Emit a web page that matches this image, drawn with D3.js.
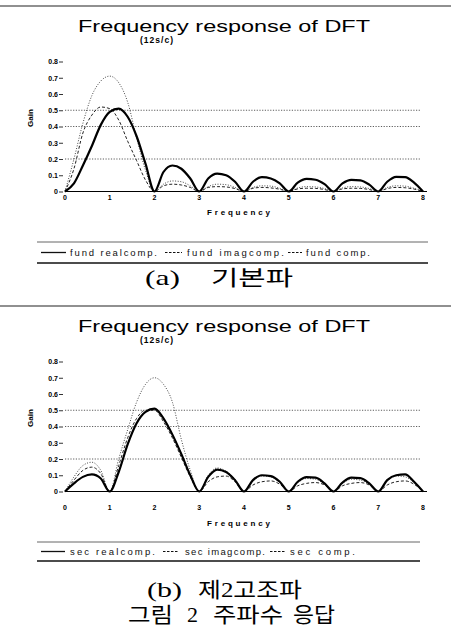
<!DOCTYPE html>
<html><head><meta charset="utf-8">
<script src="https://cdn.jsdelivr.net/npm/d3@7"></script>
<style>body{margin:0;background:#fff}svg{display:block}</style>
</head><body>
<script>
const freq = [0,0.2,0.4,0.6,0.8,1,1.2,1.4,1.6,1.8,2,2.2,2.4,2.6,2.8,3,3.2,3.4,3.6,3.8,4,4.2,4.4,4.6,4.8,5,5.2,5.4,5.6,5.8,6,6.2,6.4,6.6,6.8,7,7.2,7.4,7.6,7.8,8];
const xTicks = [0,1,2,3,4,5,6,7,8];
const yTicks = [0,0.1,0.2,0.3,0.4,0.5,0.6,0.7,0.8];
const yTickLabels = ["0","0.1","0.2","0.3","0.4","0.5","0.6","0.7","0.8"];
const gridValues = [0.2,0.4,0.5];

const fundReal = [0,0.05,0.16,0.28,0.41,0.49,0.51,0.46,0.34,0.17,0,
  0.12,0.16,0.14,0.08,0, 0.08,0.11,0.10,0.06,0, 0.06,0.088,0.08,0.05,0,
  0.055,0.078,0.072,0.045,0, 0.05,0.072,0.068,0.042,0, 0.06,0.09,0.088,0.055,0];
const fundImag = [0,0.14,0.36,0.47,0.52,0.51,0.44,0.31,0.19,0.07,0,
  0.035,0.045,0.04,0.025,0, 0.025,0.03,0.028,0.018,0, 0.02,0.025,0.022,0.014,0,
  0.016,0.02,0.019,0.012,0, 0.016,0.02,0.019,0.012,0, 0.018,0.025,0.023,0.015,0];
const fundComp = [0,0.2,0.42,0.59,0.68,0.71,0.67,0.55,0.33,0.13,0,
  0.045,0.065,0.06,0.035,0, 0.03,0.045,0.042,0.025,0, 0.025,0.035,0.033,0.02,0,
  0.022,0.03,0.028,0.018,0, 0.022,0.03,0.028,0.018,0, 0.025,0.035,0.033,0.02,0];

const secReal = [0,0.05,0.09,0.105,0.08,0,0.12,0.29,0.42,0.49,0.51,0.45,0.35,0.23,0.1,0,
  0.09,0.135,0.12,0.07,0, 0.07,0.10,0.095,0.06,0, 0.06,0.088,0.085,0.05,0,
  0.055,0.085,0.082,0.05,0, 0.07,0.10,0.105,0.06,0];
const secImag = [0,0.07,0.13,0.15,0.11,0,0.16,0.33,0.45,0.5,0.5,0.43,0.33,0.21,0.09,0,
  0.06,0.09,0.095,0.06,0, 0.04,0.06,0.065,0.045,0, 0.035,0.05,0.055,0.04,0,
  0.035,0.05,0.055,0.04,0, 0.04,0.06,0.065,0.045,0];
const secComp = [0,0.09,0.16,0.18,0.13,0,0.2,0.38,0.55,0.66,0.7,0.66,0.55,0.32,0.13,0,
  0.10,0.145,0.125,0.075,0, 0.065,0.095,0.09,0.055,0, 0.055,0.08,0.075,0.045,0,
  0.05,0.075,0.07,0.045,0, 0.065,0.095,0.09,0.055,0];

const fundNames = ["fund realcomp.","fund imagcomp.","fund comp."];
const secNames = ["sec realcomp.","sec imagcomp.","sec comp."];

const W = 453, H = 629;
const svg = d3.select("body").append("svg").attr("width", W).attr("height", H);
const sans = "'Liberation Sans', Arial, sans-serif";
const styles = [
  {w:2.2, dash:null, c:"#000"},
  {w:1, dash:"3,2", c:"#222"},
  {w:0.9, dash:"1,1.6", c:"#333"}
];

function chart(off, series, names, xLabY, freqY, legTop, legBot, legendLayout) {
  const g = svg.append("g");
  const x = d3.scaleLinear().domain([0,8]).range([65, 423]);
  const y = d3.scaleLinear().domain([0,0.8]).range([off+191.5, off+61.5]);

  g.append("line").attr("x1",0).attr("x2",451).attr("y1",off+6).attr("y2",off+6)
    .attr("stroke","#222").attr("stroke-width",1.2);

  g.append("text").attr("x",78).attr("y",off+32).attr("textLength",292).attr("lengthAdjust","spacingAndGlyphs")
    .attr("font-family",sans).attr("font-size",17).attr("fill","#000").text("Frequency response of DFT");
  g.append("text").attr("x",140).attr("y",off+43).attr("textLength",33)
    .attr("font-family",sans).attr("font-weight","bold").attr("font-size",8.5).attr("fill","#000").text("(12s/c)");

  g.selectAll(".grid").data(gridValues).enter().append("line")
    .attr("x1",x(0)).attr("x2",421).attr("y1",d=>y(d)).attr("y2",d=>y(d))
    .attr("stroke","#333").attr("stroke-width",0.8).attr("stroke-dasharray","1.2,1.5");

  const ya = d3.axisLeft(y).tickValues(yTicks).tickFormat((d,i)=>yTickLabels[i]).tickSize(4).tickPadding(1);
  const yg = g.append("g").attr("transform",`translate(${x(0)-2},0)`).call(ya);
  yg.select(".domain").remove();
  yg.selectAll("text").attr("font-family",sans).attr("font-weight","bold").attr("font-size",7).attr("fill","#000");
  yg.selectAll("line").attr("stroke","#333");

  g.append("line").attr("x1",65).attr("x2",427).attr("y1",y(0)).attr("y2",y(0)).attr("stroke","#000").attr("stroke-width",1.2);
  g.selectAll(".xl").data(xTicks).enter().append("text")
    .attr("x",d=>x(d)).attr("y",xLabY).attr("text-anchor","middle").attr("dominant-baseline","middle")
    .attr("font-family",sans).attr("font-weight","bold").attr("font-size",7).attr("fill","#000").text(d=>d);

  g.append("text").attr("transform",`translate(33,${off+118}) rotate(-90)`).attr("text-anchor","middle")
    .attr("font-family",sans).attr("font-weight","bold").attr("font-size",8).attr("fill","#000").text("Gain");
  g.append("text").attr("x",207).attr("y",freqY).attr("textLength",63).attr("dominant-baseline","middle")
    .attr("font-family",sans).attr("font-weight","bold").attr("font-size",8).attr("fill","#000").text("Frequency");

  const line = d3.line().x((d,i)=>x(freq[i])).y(d=>y(d)).curve(d3.curveMonotoneX);
  [2,1,0].forEach(k=>{
    g.append("path").attr("d",line(series[k])).attr("fill","none")
      .attr("stroke",styles[k].c).attr("stroke-width",styles[k].w)
      .attr("stroke-dasharray",styles[k].dash);
  });

  g.append("line").attr("x1",37).attr("x2",legendLayout.end).attr("y1",legTop).attr("y2",legTop).attr("stroke","#555").attr("stroke-width",0.9);
  g.append("line").attr("x1",37).attr("x2",legendLayout.end).attr("y1",legBot).attr("y2",legBot).attr("stroke","#111").attr("stroke-width",1.3);
  const ly = (legTop+legBot)/2;
  legendLayout.items.forEach((it,k)=>{
    g.append("line").attr("x1",it.l0).attr("x2",it.l1).attr("y1",ly).attr("y2",ly)
      .attr("stroke","#111").attr("stroke-width",k===0?1.3:1).attr("stroke-dasharray",k===0?null:"2.5,1.5");
    g.append("text").attr("x",it.t0).attr("y",ly+3.2).attr("textLength",it.tw)
      .attr("font-family",sans).attr("font-size",9.5).attr("fill","#111").text(names[k]);
  });
}

chart(0, [fundReal,fundImag,fundComp], fundNames, 198.5, 212.5, 242, 263,
  {end:428, items:[{l0:41,l1:66,t0:70,tw:87},{l0:165,l1:182,t0:187,tw:97},{l0:288,l1:302,t0:306,tw:64}]});
chart(300, [secReal,secImag,secComp], secNames, 508, 523.5, 542, 561,
  {end:420, items:[{l0:41,l1:65,t0:70,tw:85},{l0:163,l1:178,t0:185,tw:80},{l0:270,l1:285,t0:290,tw:65}]});

const capFont = "'Liberation Serif', 'Noto Sans CJK KR', serif";
const captionParts = [
  {t:"(a)", x:145, w:35, y:285}, {t:"기본파", x:211, w:82, y:285},
  {t:"(b)", x:147, w:35, y:597}, {t:"제2고조파", x:198, w:104, y:597},
  {t:"그림", x:128, w:45, y:622}, {t:"2", x:187, w:11, y:622}, {t:"주파수", x:213, w:70, y:622}, {t:"응답", x:293, w:42, y:622}
];
captionParts.forEach(p=>{
  svg.append("text").attr("x",p.x).attr("y",p.y).attr("textLength",p.w).attr("lengthAdjust","spacingAndGlyphs")
    .attr("font-family",capFont).attr("font-size",21).attr("fill","#000").text(p.t);
});
</script>
</body></html>
